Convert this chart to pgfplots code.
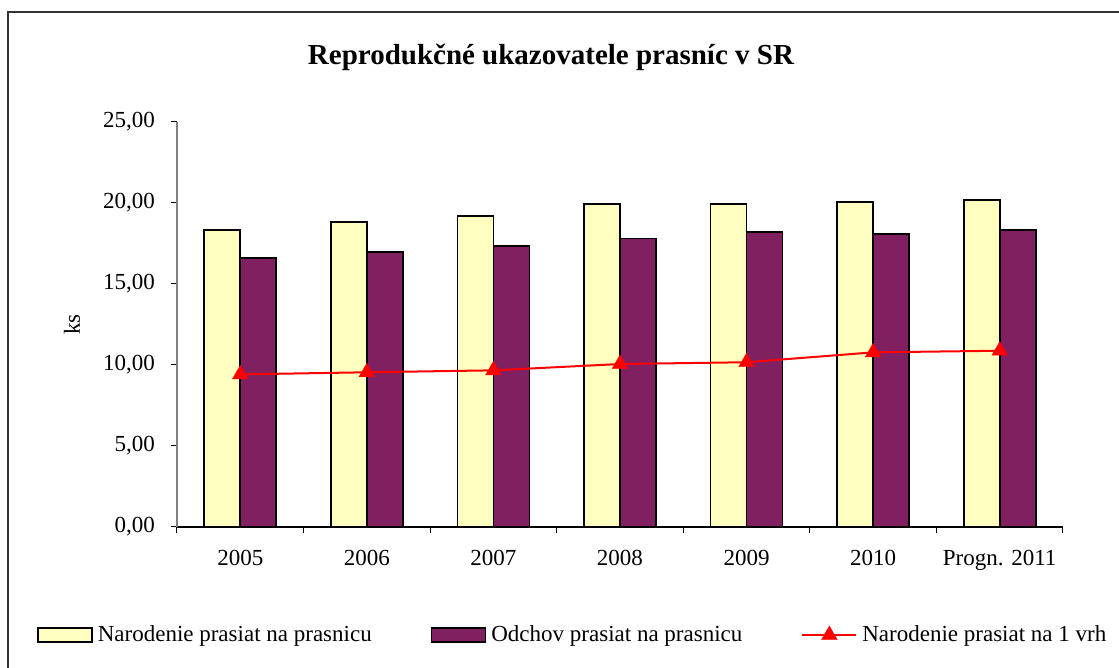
\documentclass[border=0pt]{standalone}
\usepackage{fontspec}
\setmainfont{Liberation Serif}
\usepackage{pgfplots}
\pgfplotsset{compat=1.18}
\definecolor{barY}{RGB}{255,255,192}
\definecolor{barP}{RGB}{128,32,96}
\pgfplotsset{
  barleg/.style={legend image code/.code={\draw[##1] (0pt,-3.5pt) rectangle (27pt,3.5pt);}},
  lineleg/.style={legend image code/.code={\draw[mark=none,##1] (0pt,0pt) -- (27pt,0pt); \draw[##1, only marks] plot coordinates {(13.5pt,0pt)};}},
}
\begin{document}
\begin{tikzpicture}
\useasboundingbox (0,0) rectangle (559.5pt,334pt);
\draw[line width=1.2pt, black!80] (4pt,0pt) -- (4pt,328pt) -- (560pt,328pt);
\node[font=\fontsize{14.5}{16}\selectfont\bfseries] at (275.5pt,305.5pt) {Reprodukčné ukazovatele prasníc v SR};
\begin{axis}[
  at={(88.5pt,70.5pt)}, anchor=south west,
  scale only axis, width=443pt, height=202.5pt,
  xmin=-0.5, xmax=6.5, ymin=0, ymax=25,
  axis y line*=left, axis x line*=bottom,
  y axis line style={draw=black!50, line width=0.8pt, -},
  x axis line style={draw=black, line width=0.6pt, -},
  xtick={0,...,6},
  xticklabels={2005,2006,2007,2008,2009,2010,Progn. 2011},
  major x tick style={draw=none},
  minor xtick={-0.5,0.5,...,6.5},
  minor x tick style={draw=black, line width=0.5pt},
  tick align=outside,
  minor tick length=3pt,
  major tick length=3pt,
  ytick={0,5,...,25},
  y tick style={draw=black, line width=0.5pt},
  yticklabel style={/pgf/number format/fixed, /pgf/number format/fixed zerofill, /pgf/number format/precision=2, /pgf/number format/use comma, xshift=-4.5pt},
  /pgf/number format/assume math mode=true,
  tick label style={font=\fontsize{11.5}{12}\selectfont},
  xticklabel style={yshift=-5pt},
  ylabel={ks},
  ylabel style={at={(axis description cs:-0.1185,0.5)}, anchor=center, rotate=0, font=\fontsize{11.5}{12}\selectfont},
  clip=false,
  legend columns=3,
  legend style={draw=none, fill=none, at={(axis description cs:-0.165,-0.2667)}, anchor=west,
    font=\fontsize{11.5}{12}\selectfont, nodes={inner sep=2.5pt},
    /tikz/every even column/.append style={column sep=27pt}},
]
\addplot[ybar, bar width=18pt, bar shift=-9pt, fill=barY, draw=black, line width=0.8pt, barleg]
  coordinates {(0,18.33) (1,18.83) (2,19.2) (3,19.94) (4,19.94) (5,20.06) (6,20.19)};
\addlegendentry{Narodenie prasiat na prasnicu}
\addplot[ybar, bar width=18pt, bar shift=9pt, fill=barP, draw=black, line width=0.8pt, barleg]
  coordinates {(0,16.6) (1,16.98) (2,17.35) (3,17.82) (4,18.2) (5,18.09) (6,18.33)};
\addlegendentry{Odchov prasiat na prasnicu}
\addplot[red, line width=1pt, mark=triangle*, mark size=4.5pt, mark options={fill=red, draw=red, line width=0.2pt}, lineleg]
  coordinates {(0,9.42) (1,9.55) (2,9.67) (3,10.06) (4,10.17) (5,10.78) (6,10.88)};
\addlegendentry{Narodenie prasiat na 1 vrh}
\end{axis}
\end{tikzpicture}
\end{document}
